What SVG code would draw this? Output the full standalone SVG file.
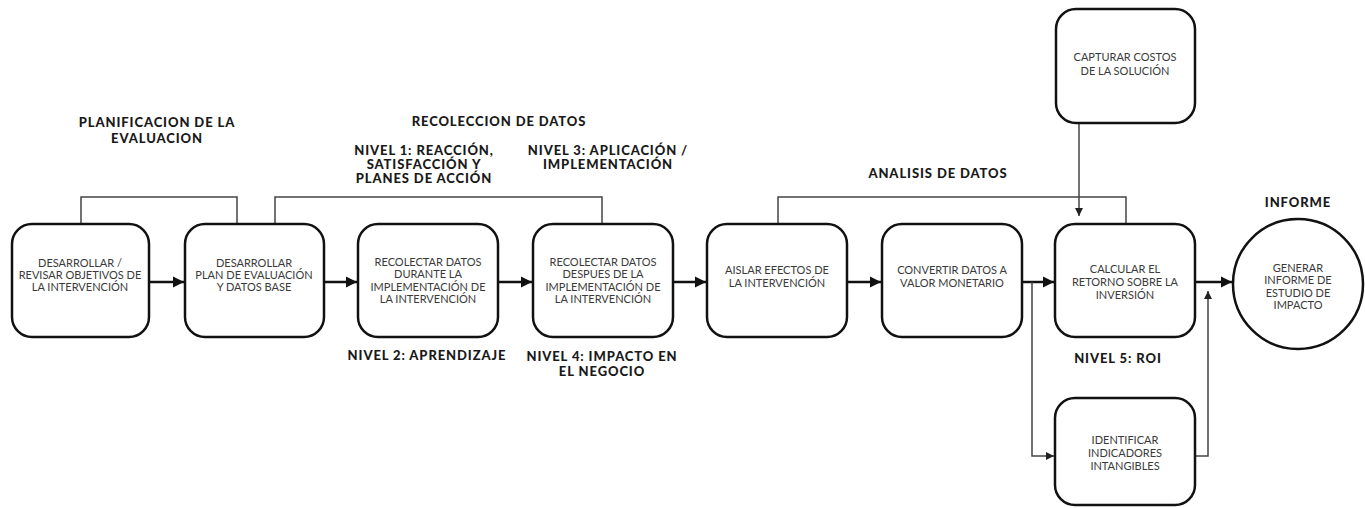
<svg xmlns="http://www.w3.org/2000/svg" width="1365" height="508" viewBox="0 0 1365 508">
<style>
.box{fill:#fff;stroke:#111;stroke-width:2.5}
.t{font-family:Lato,"Open Sans",sans-serif;font-size:11px;fill:#3a3a3a;text-anchor:middle}
.h{font-family:Lato,"Open Sans",sans-serif;font-size:13px;letter-spacing:0.9px;font-weight:900;fill:#1a1a1a;text-anchor:middle}
.main{stroke:#111;stroke-width:2.5;fill:none}
.thin{stroke:#444;stroke-width:1.5;fill:none}
</style>
<defs>
<marker id="big" viewBox="0 0 10 10" refX="10" refY="5" markerWidth="4.6" markerHeight="4.6" markerUnits="strokeWidth" orient="auto"><path d="M0,0 L10,5 L0,10 z" fill="#111"/></marker>
<marker id="small" viewBox="0 0 10 10" refX="10" refY="5" markerWidth="5.5" markerHeight="5.5" markerUnits="strokeWidth" orient="auto"><path d="M0,0 L10,5 L0,10 z" fill="#222"/></marker>
</defs>
<rect width="1365" height="508" fill="#fff"/>
<g id="labels">
<text class="h" x="157" y="127">PLANIFICACION DE LA</text>
<text class="h" x="157" y="143">EVALUACION</text>
<text class="h" x="499" y="126">RECOLECCION DE DATOS</text>
<text class="h" x="424" y="155">NIVEL 1: REACCIÓN,</text>
<text class="h" x="424" y="169">SATISFACCIÓN Y</text>
<text class="h" x="424" y="183">PLANES DE ACCIÓN</text>
<text class="h" x="608" y="155">NIVEL 3: APLICACIÓN /</text>
<text class="h" x="608" y="169">IMPLEMENTACIÓN</text>
<text class="h" x="427" y="360">NIVEL 2: APRENDIZAJE</text>
<text class="h" x="602" y="361">NIVEL 4: IMPACTO EN</text>
<text class="h" x="602" y="376">EL NEGOCIO</text>
<text class="h" x="938" y="178">ANALISIS DE DATOS</text>
<text class="h" x="1298" y="207">INFORME</text>
<text class="h" x="1118" y="363">NIVEL 5: ROI</text>
</g>
<g id="connectors">
<path class="thin" d="M81,224 V197 H237 V224"/>
<path class="thin" d="M275,224 V197 H602 V224"/>
<path class="thin" d="M778,224 V197 H1126 V224"/>
<path class="thin" d="M1079,123 V216" marker-end="url(#small)"/>
<path class="main" d="M149,282 H184" marker-end="url(#big)"/>
<path class="main" d="M324,282 H357" marker-end="url(#big)"/>
<path class="main" d="M498,282 H532" marker-end="url(#big)"/>
<path class="main" d="M673,282 H706" marker-end="url(#big)"/>
<path class="main" d="M847,282 H881" marker-end="url(#big)"/>
<path class="main" d="M1022,282 H1054" marker-end="url(#big)"/>
<path class="main" d="M1195,282 H1232" marker-end="url(#big)"/>
<path class="thin" d="M1032,282 V456 H1054" marker-end="url(#small)"/>
<path class="thin" d="M1195,456 H1208 V291" marker-end="url(#small)"/>
</g>
<g id="n1"><rect class="box" x="12" y="224" width="137" height="113" rx="20"/>
<text class="t" x="80" y="267">DESARROLLAR /</text><text class="t" x="80" y="279">REVISAR OBJETIVOS DE</text><text class="t" x="80" y="291">LA INTERVENCIÓN</text></g>
<g id="n2"><rect class="box" x="185" y="224" width="139" height="113" rx="20"/>
<text class="t" x="254" y="267">DESARROLLAR</text><text class="t" x="254" y="279">PLAN DE EVALUACIÓN</text><text class="t" x="254" y="291">Y DATOS BASE</text></g>
<g id="n3"><rect class="box" x="358" y="224" width="140" height="113" rx="20"/>
<text class="t" x="428" y="266">RECOLECTAR DATOS</text><text class="t" x="428" y="278">DURANTE LA</text><text class="t" x="428" y="291">IMPLEMENTACIÓN DE</text><text class="t" x="428" y="303">LA INTERVENCIÓN</text></g>
<g id="n4"><rect class="box" x="533" y="224" width="140" height="113" rx="20"/>
<text class="t" x="603" y="266">RECOLECTAR DATOS</text><text class="t" x="603" y="278">DESPUES DE LA</text><text class="t" x="603" y="291">IMPLEMENTACIÓN DE</text><text class="t" x="603" y="303">LA INTERVENCIÓN</text></g>
<g id="n5"><rect class="box" x="707" y="224" width="140" height="113" rx="20"/>
<text class="t" x="777" y="274">AISLAR EFECTOS DE</text><text class="t" x="777" y="287">LA INTERVENCIÓN</text></g>
<g id="n6"><rect class="box" x="882" y="224" width="140" height="113" rx="20"/>
<text class="t" x="952" y="274">CONVERTIR DATOS A</text><text class="t" x="952" y="287">VALOR MONETARIO</text></g>
<g id="n7"><rect class="box" x="1055" y="224" width="140" height="113" rx="20"/>
<text class="t" x="1125" y="273">CALCULAR EL</text><text class="t" x="1125" y="286">RETORNO SOBRE LA</text><text class="t" x="1125" y="299">INVERSIÓN</text></g>
<g id="n8"><circle class="box" cx="1298" cy="284" r="65"/>
<text class="t" x="1298" y="272">GENERAR</text><text class="t" x="1298" y="284">INFORME DE</text><text class="t" x="1298" y="297">ESTUDIO DE</text><text class="t" x="1298" y="309">IMPACTO</text></g>
<g id="n9"><rect class="box" x="1056" y="9" width="139" height="114" rx="20"/>
<text class="t" x="1125" y="61">CAPTURAR COSTOS</text><text class="t" x="1125" y="75">DE LA SOLUCIÓN</text></g>
<g id="n10"><rect class="box" x="1055" y="398" width="140" height="107" rx="20"/>
<text class="t" x="1125" y="444">IDENTIFICAR</text><text class="t" x="1125" y="457">INDICADORES</text><text class="t" x="1125" y="470">INTANGIBLES</text></g>
</svg>
